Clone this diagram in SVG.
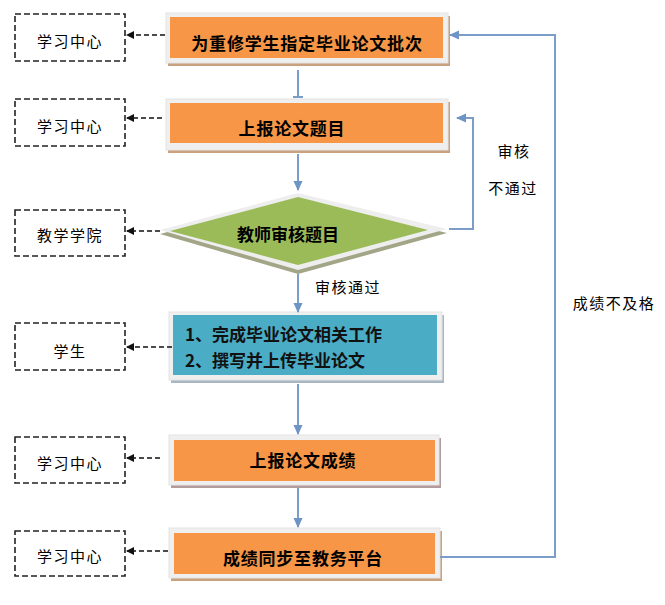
<svg xmlns="http://www.w3.org/2000/svg" width="665" height="605" viewBox="0 0 665 605">
<style>
.frame{fill:#efefef;stroke:#e4e4e4;stroke-width:1}
.org{fill:#F79646}
.sh-org{fill:#c9a17f}
.ntext{font-family:"Noto Sans CJK SC","Noto Sans CJK TC",sans-serif;font-size:17px;font-weight:bold;fill:#000;text-anchor:middle;dominant-baseline:central}
.ltext{font-family:"Noto Sans CJK SC","Noto Sans CJK TC",sans-serif;font-size:15px;fill:#000;text-anchor:middle;dominant-baseline:central;letter-spacing:1.5px}
.dbox{fill:#fff;stroke:#222;stroke-width:1.6;stroke-dasharray:6,3}
.dline{stroke:#111;stroke-width:1.6;stroke-dasharray:5,3;fill:none}
.conn{stroke:#7A9DCA;stroke-width:2;fill:none}
</style>
<defs>
<marker id="ah" markerWidth="8" markerHeight="8" refX="7" refY="4" orient="auto" markerUnits="userSpaceOnUse">
<path d="M0,0 L8,4 L0,8 z" fill="#111"/>
</marker>
<marker id="bh" markerWidth="10" markerHeight="10" refX="9" refY="5" orient="auto" markerUnits="userSpaceOnUse">
<path d="M0,0.5 L10,5 L0,9.5 z" fill="#6E94C5"/>
</marker>
</defs>

<g id="side1"><rect class="dbox" x="15" y="14" width="110" height="47"/><text class="ltext" x="70" y="40">学习中心</text></g>
<g id="side2"><rect class="dbox" x="15" y="99" width="110" height="47"/><text class="ltext" x="70" y="125">学习中心</text></g>
<g id="side3"><rect class="dbox" x="15" y="210" width="110" height="46"/><text class="ltext" x="70" y="234">教学学院</text></g>
<g id="side4"><rect class="dbox" x="15" y="323" width="110" height="47"/><text class="ltext" x="70" y="350">学生</text></g>
<g id="side5"><rect class="dbox" x="15" y="437" width="110" height="46"/><text class="ltext" x="70" y="462">学习中心</text></g>
<g id="side6"><rect class="dbox" x="15" y="531" width="110" height="45"/><text class="ltext" x="70" y="555">学习中心</text></g>

<g id="n1">
<rect class="sh-org" x="168" y="16" width="282" height="50"/>
<rect class="frame" x="166" y="13" width="282" height="50"/>
<rect class="org" x="170" y="17" width="273" height="41"/>
<text class="ntext" x="307" y="42" style="letter-spacing:0.8px">为重修学生指定毕业论文批次</text>
</g>
<g id="n2">
<rect class="sh-org" x="168" y="102" width="282" height="51"/>
<rect class="frame" x="166" y="99" width="282" height="51"/>
<rect class="org" x="170" y="103" width="273" height="40"/>
<text class="ntext" x="292" y="127" style="letter-spacing:0.8px">上报论文题目</text>
</g>
<g id="n3">
<polygon points="160,234 298,197 447,233 298,274" fill="#a3a587"/>
<polygon points="160,230 298,193 447,229 298,270" fill="#eeeeee"/>
<polygon points="170,231 298,197 428,230 298,265" fill="#9BBB59"/>
<text class="ntext" x="288" y="233">教师审核题目</text>
</g>
<g id="n4">
<rect x="171" y="315" width="273" height="68" fill="#a9b7c2"/>
<rect class="frame" x="169" y="312" width="273" height="68"/>
<rect x="173" y="315" width="264" height="60" fill="#4BACC6"/>
<text class="ntext" x="185" y="333" style="text-anchor:start;fill:#111">1、完成毕业论文相关工作</text>
<text class="ntext" x="185" y="359" style="text-anchor:start;fill:#111">2、撰写并上传毕业论文</text>
</g>
<g id="n5">
<rect x="171" y="438" width="270" height="50" fill="#b39a9c"/>
<rect class="frame" x="169" y="435" width="270" height="50"/>
<rect class="org" x="174" y="440" width="261" height="41"/>
<text class="ntext" x="303" y="459" style="letter-spacing:0.8px">上报论文成绩</text>
</g>
<g id="n6">
<rect class="sh-org" x="171" y="531" width="271" height="50"/>
<rect class="frame" x="169" y="528" width="271" height="50"/>
<rect class="org" x="174" y="533" width="261" height="41"/>
<text class="ntext" x="303" y="557" style="letter-spacing:0.8px">成绩同步至教务平台</text>
</g>

<g id="connectors">
<line class="dline" x1="165" y1="35" x2="127" y2="35" marker-end="url(#ah)"/>
<line class="dline" x1="162" y1="118" x2="127" y2="118" marker-end="url(#ah)"/>
<line class="dline" x1="160" y1="231" x2="127" y2="231" marker-end="url(#ah)"/>
<line class="dline" x1="172" y1="347" x2="127" y2="347" marker-end="url(#ah)"/>
<line class="dline" x1="160" y1="458" x2="127" y2="458" marker-end="url(#ah)"/>
<line class="dline" x1="168" y1="551" x2="127" y2="551" marker-end="url(#ah)"/>

<line class="conn" x1="298" y1="70" x2="298" y2="97"/>
<line class="conn" x1="293" y1="97" x2="303" y2="97"/>
<line class="conn" x1="298" y1="154" x2="298" y2="190" marker-end="url(#bh)"/>
<line class="conn" x1="298" y1="274" x2="298" y2="312" marker-end="url(#bh)"/>
<line class="conn" x1="298" y1="384" x2="298" y2="434" marker-end="url(#bh)"/>
<line class="conn" x1="298" y1="488" x2="298" y2="527" marker-end="url(#bh)"/>
<polyline class="conn" points="449,229 473,229 473,118 457,118" marker-end="url(#bh)"/>
<polyline class="conn" points="440,557 555,557 555,35 450,35" marker-end="url(#bh)"/>
<text class="ltext" x="348" y="286">审核通过</text>
<text class="ltext" x="514" y="150">审核</text>
<text class="ltext" x="513" y="187">不通过</text>
<text class="ltext" x="614" y="302">成绩不及格</text>
</g>
</svg>
